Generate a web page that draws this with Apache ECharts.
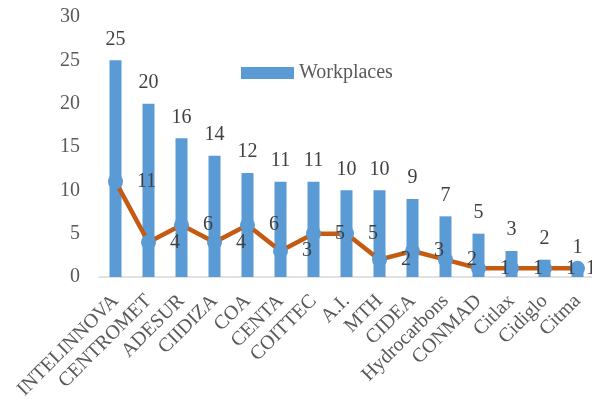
<!DOCTYPE html>
<html>
<head>
<meta charset="utf-8">
<script src="https://cdn.jsdelivr.net/npm/echarts@6/dist/echarts.min.js"></script>
<style>html,body{margin:0;padding:0;background:#fff;}#c{width:592px;height:405px;}</style>
</head>
<body>
<div id="c"></div>
<script>
const categories = ['INTELINNOVA','CENTROMET','ADESUR','CIIDIZA','COA','CENTA','COITTEC','A.I.','MTH','CIDEA','Hydrocarbons','CONMAD','Citlax','Cidiglo','Citma'];
const workplaces = [25,20,16,14,12,11,11,10,10,9,7,5,3,2,1];
const lineValues = [11,4,6,4,6,3,5,5,2,3,2,1,1,1,1];
const yTicks = {min:0, max:30, interval:5};

const font = '"Liberation Serif", "Times New Roman", serif';
const lastIdx = lineValues.length - 1;
const lineData = lineValues.map((v, i) => i === lastIdx ? {value: v, label: {distance: 1}} : v);

const chart = echarts.init(document.getElementById('c'));
chart.setOption({
  animation:false,
  textStyle:{fontFamily:font},
  grid:{left:99, right:-2, top:17, bottom:128, containLabel:false, outerBoundsMode:'none'},
  legend:{
    data:['Workplaces'], left:236, top:58, icon:'rect', itemWidth:53, itemHeight:12, itemGap:6,
    textStyle:{fontFamily:font, fontSize:20, color:'#595959'}
  },
  xAxis:{
    type:'category', data:categories,
    axisLine:{lineStyle:{color:'#D9D9D9', width:1.5}},
    axisTick:{show:false},
    axisLabel:{rotate:45, interval:0, margin:21, fontFamily:font, fontSize:20, color:'#595959'}
  },
  yAxis:{
    type:'value', min:yTicks.min, max:yTicks.max, interval:yTicks.interval,
    axisLine:{show:false}, axisTick:{show:false}, splitLine:{show:false},
    axisLabel:{margin:19, fontFamily:font, fontSize:20, color:'#595959'}
  },
  series:[
    {
      name:'Workplaces', type:'bar', data:workplaces, barWidth:12,
      itemStyle:{color:'#5B9BD5'},
      label:{show:true, position:'top', distance:11, fontFamily:font, fontSize:20, color:'#404040'}
    },
    {
      name:'Line', type:'line', data:lineData,
      symbol:'circle', symbolSize:15,
      itemStyle:{color:'#5B9BD5'},
      lineStyle:{color:'#C55A11', width:4.5},
      label:{show:true, position:'right', distance:14, fontFamily:font, fontSize:20, color:'#404040'},
      z:3
    }
  ]
});
</script>
</body>
</html>
